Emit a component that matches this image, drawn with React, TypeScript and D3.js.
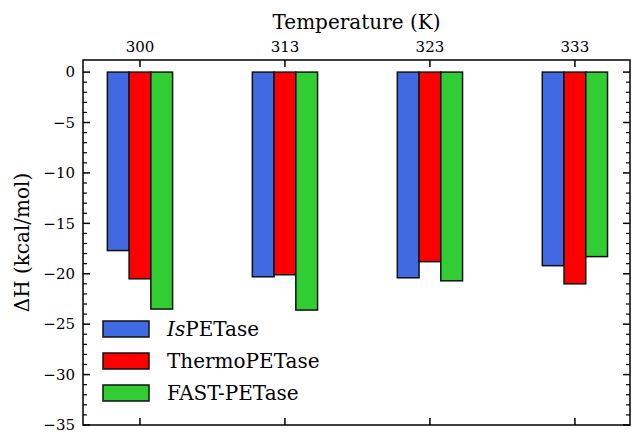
import React from "react";
import * as d3 from "d3";

const temperatures = ["300", "313", "323", "333"];
const seriesNames = ["IsPETase", "ThermoPETase", "FAST-PETase"];
const seriesColors = ["#4169E1", "#FF0000", "#32CD32"];
const isPETase = [-17.7, -20.3, -20.4, -19.2];
const thermoPETase = [-20.5, -20.1, -18.8, -21.0];
const fastPETase = [-23.5, -23.6, -20.7, -18.3];
const yTicks = [0, -5, -10, -15, -20, -25, -30, -35];

const series = [isPETase, thermoPETase, fastPETase];

const font = "'DejaVu Serif', 'Liberation Serif', serif";

const App = () => {
    const width = 632;
    const height = 434;
    const left = 83, right = 630, top = 60, bottom = 425;

    const x = d3.scaleLinear().domain([-0.393, 3.38]).range([left, right]);
    const y = d3.scaleLinear().domain([1.2, -35]).range([top, bottom]);
    const barW = x(0.15) - x(0);
    const minor = d3.range(0, -36, -1);

    return (
        <svg width={width} height={height} style={{position: "absolute", left: 0, top: 0}}>
            <rect width={width} height={height} fill="white"/>
            {series.map((vals, si) =>
                vals.map((v, i) => {
                    const cx = x(i) + (si - 1) * barW;
                    return <rect key={si + "-" + i} x={cx - barW / 2} y={y(0)} width={barW}
                                 height={y(v) - y(0)} fill={seriesColors[si]} stroke="#111" strokeWidth={1.5}/>;
                })
            )}
            <rect x={left} y={top} width={right - left} height={bottom - top} fill="none" stroke="#000" strokeWidth={1.5}/>
            {minor.map(v => {
                const major = v % 5 === 0;
                const len = major ? 7 : 4;
                return (
                    <g key={v}>
                        <line x1={left} x2={left + len} y1={y(v)} y2={y(v)} stroke="#000" strokeWidth={major ? 1.5 : 1.2}/>
                        <line x1={right} x2={right - len} y1={y(v)} y2={y(v)} stroke="#000" strokeWidth={major ? 1.5 : 1.2}/>
                    </g>
                );
            })}
            {yTicks.map(v => (
                <text key={v} x={left - 8} y={y(v)} dy="0.35em" textAnchor="end" fontFamily={font} fontSize={15}>
                    {v === 0 ? "0" : "\u2212" + Math.abs(v)}
                </text>
            ))}
            {temperatures.map((t, i) => (
                <g key={t}>
                    <line x1={x(i)} x2={x(i)} y1={top} y2={top + 7} stroke="#000" strokeWidth={1.5}/>
                    <line x1={x(i)} x2={x(i)} y1={bottom} y2={bottom - 7} stroke="#000" strokeWidth={1.5}/>
                    <text x={x(i)} y={top - 8} textAnchor="middle" fontFamily={font} fontSize={15}>{t}</text>
                </g>
            ))}
            <text x={(left + right) / 2} y={29} textAnchor="middle" fontFamily={font} fontSize={20}>Temperature (K)</text>
            <text transform={`translate(29,${(top + bottom) / 2}) rotate(-90)`} textAnchor="middle" fontFamily={font} fontSize={20}>
                ΔH (kcal/mol)
            </text>
            {seriesNames.map((name, si) => {
                const cy = 329 + si * 32;
                return (
                    <g key={name}>
                        <rect x={103} y={cy - 8} width={46} height={16} fill={seriesColors[si]} stroke="#111" strokeWidth={1.5}/>
                        <text x={167} y={cy} dy="0.35em" fontFamily={font} fontSize={20}>
                            {si === 0 ? <><tspan fontStyle="italic">Is</tspan>PETase</> : name}
                        </text>
                    </g>
                );
            })}
        </svg>
    );
};

export default App;
